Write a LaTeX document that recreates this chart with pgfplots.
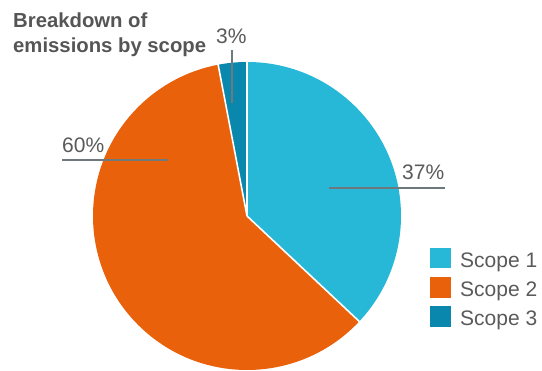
\documentclass[border=0pt]{standalone}
\usepackage{pgfplots}
\pgfplotsset{compat=1.18}
\usepackage{pgfplotstable}
\usepackage{fontspec}
\setmainfont{Liberation Sans}
\definecolor{cA}{HTML}{27B8D7}
\definecolor{cB}{HTML}{EA610B}
\definecolor{cC}{HTML}{0A87AD}
\definecolor{titlegray}{HTML}{555555}
\definecolor{labelgray}{HTML}{5A5A5A}
\definecolor{linegray}{HTML}{6E797D}
\pgfplotstableread{
label value
{Scope 1} 37
{Scope 2} 60
{Scope 3} 3
}\pietable
\pgfplotstablegetelem{0}{value}\of\pietable\edef\vA{\pgfplotsretval}
\pgfplotstablegetelem{1}{value}\of\pietable\edef\vB{\pgfplotsretval}
\pgfplotstablegetelem{2}{value}\of\pietable\edef\vC{\pgfplotsretval}
\pgfmathsetmacro\aA{90}
\pgfmathsetmacro\aB{\aA-3.6*\vA}
\pgfmathsetmacro\aC{\aB-3.6*\vB}
\pgfmathsetmacro\aD{\aC-3.6*\vC}
\newcommand\slice[3]{\fill[#3] (axis cs:247,155) -- ([shift={(#1:154pt)}]axis cs:247,155) arc[start angle=#1, end angle=#2, radius=154pt] -- cycle;}
\begin{document}%
\begin{tikzpicture}
\begin{axis}[scale only axis, width=542pt, height=371pt,
  xmin=0, xmax=542, ymin=0, ymax=371, hide axis, clip=false,
  at={(0,0)}, anchor=south west]
\slice{\aA}{\aB}{cA}
\slice{\aB}{\aC}{cB}
\slice{\aC}{\aD}{cC}
\draw[white, line width=1.6pt] (axis cs:247,155) -- +(\aA:155pt);
\draw[white, line width=1.6pt] (axis cs:247,155) -- +(\aB:155pt);
\draw[white, line width=1.6pt] (axis cs:247,155) -- +(\aC:155pt);
% leader lines
\draw[linegray, line width=1.2pt] (axis cs:329,183) -- (axis cs:445,183);
\draw[linegray, line width=1.2pt] (axis cs:62,211) -- (axis cs:168,211);
\draw[linegray, line width=1.2pt] (axis cs:232,321) -- (axis cs:232,268);
% value labels
\node[anchor=base west, inner sep=0pt, text=labelgray, font=\fontsize{21}{25}\selectfont] at (axis cs:402,191) {\vA\%};
\node[anchor=base west, inner sep=0pt, text=labelgray, font=\fontsize{21}{25}\selectfont] at (axis cs:62,218) {\vB\%};
\node[anchor=base west, inner sep=0pt, text=labelgray, font=\fontsize{21}{25}\selectfont] at (axis cs:216,327) {\vC\%};
% title
\node[anchor=base west, inner sep=0pt, text=titlegray, font=\fontsize{20.3}{25}\selectfont\bfseries] at (axis cs:13,343.3) {Breakdown of};
\node[anchor=base west, inner sep=0pt, text=titlegray, font=\fontsize{20.3}{25}\selectfont\bfseries] at (axis cs:13,318) {emissions by scope};
% legend
\fill[cA] (axis cs:430,103) rectangle (axis cs:451,123);
\fill[cB] (axis cs:430,73) rectangle (axis cs:451,94);
\fill[cC] (axis cs:430,44) rectangle (axis cs:451,65);
\node[anchor=base west, inner sep=0pt, text=labelgray, font=\fontsize{21}{25}\selectfont] at (axis cs:460,103) {Scope 1};
\node[anchor=base west, inner sep=0pt, text=labelgray, font=\fontsize{21}{25}\selectfont] at (axis cs:460,74) {Scope 2};
\node[anchor=base west, inner sep=0pt, text=labelgray, font=\fontsize{21}{25}\selectfont] at (axis cs:460,45) {Scope 3};
\end{axis}
\pgfresetboundingbox
\useasboundingbox (0,0) rectangle (542pt,371pt);
\end{tikzpicture}%
\end{document}
